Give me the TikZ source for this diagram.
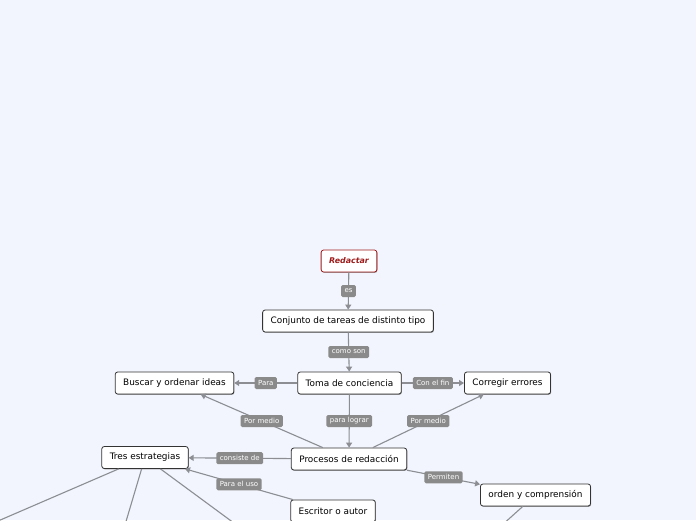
\documentclass[tikz,border=0pt]{standalone}
\usepackage{fontspec}
\setmainfont{DejaVu Sans}
\usetikzlibrary{shapes,positioning,calc,arrows.meta,shadows}
\definecolor{paper}{HTML}{F3F5FE}
\definecolor{linegray}{HTML}{8C8E94}
\definecolor{taggray}{HTML}{8A8A8A}
\definecolor{rootred}{HTML}{9E1B1B}

\begin{document}
\begin{tikzpicture}[x=1pt,y=-1pt,
      concept/.style={draw=black!80,fill=white,rounded corners=2.5pt,font=\fontsize{8.9}{10}\selectfont, minimum height=22pt, inner xsep=8pt, line width=0.8pt, drop shadow={shadow xshift=0.6pt,shadow yshift=-0.8pt,fill=black!55,opacity=0.7}},
      root/.style={concept,draw=rootred,text=rootred,font=\fontsize{7.9}{10}\selectfont\bfseries\itshape},
      tag/.style={fill=taggray,text=white,rounded corners=1.5pt,font=\fontsize{7}{8}\selectfont, inner xsep=3.5pt, inner ysep=1pt, minimum height=12pt},
      conn/.style={draw=linegray,line width=1.1pt,-{Triangle[length=5pt,width=6pt]}},
      free/.style={draw=linegray,line width=1.1pt}
      ]
      \fill[paper] (0,0) rectangle (696,520);
      \useasboundingbox (0,0) rectangle (696,520);
      \clip (0,0) rectangle (696,520);

      \node[root] (red) at (349,261) {Redactar};
      \node[concept] (conj) at (348,321) {Conjunto de tareas de distinto tipo};
      \node[concept] (toma) at (349.5,383) {Toma de conciencia};
      \node[concept] (busc) at (174.5,383) {Buscar y ordenar ideas};
      \node[concept] (corr) at (507.5,383) {Corregir errores};
      \node[concept] (proc) at (349,459) {Procesos de redacción};
      \node[concept] (tres) at (145,457.5) {Tres estrategias};
      \node[concept] (escr) at (333,511) {Escritor o autor};
      \node[concept] (orden) at (535.5,495) {orden y comprensión};

      % ends of the branches that leave the picture
      \coordinate (t1) at (-46,540);
      \coordinate (t2) at (120.5,540);
      \coordinate (t3) at (257,540);
      \coordinate (o1) at (485.4,540);

      \draw[conn] (red) -- node[tag] {es} (conj);
      \draw[conn] (conj) -- node[tag] {como son} (toma);
      \draw[conn] (toma) -- node[tag] {Para} (busc);
      \draw[conn] (toma) -- node[tag] {Con el fin} (corr);
      \draw[conn] (proc) -- node[tag] {Por medio} (busc);
      \draw[conn] (toma) -- node[tag] {para lograr} (proc);
      \draw[conn] (proc) -- node[tag] {Por medio} (corr);
      \draw[conn] (proc) -- node[tag] {consiste de} (tres);
      \draw[conn] (escr) -- node[tag] {Para el uso} (tres);
      \draw[conn] (proc) -- node[tag] {Permiten} (orden);

      \foreach \far in {t1,t2,t3}{
        \draw[free] (tres) -- (\far);
      }
      \draw[free] (orden) -- (o1);
    \end{tikzpicture}
\end{document}
